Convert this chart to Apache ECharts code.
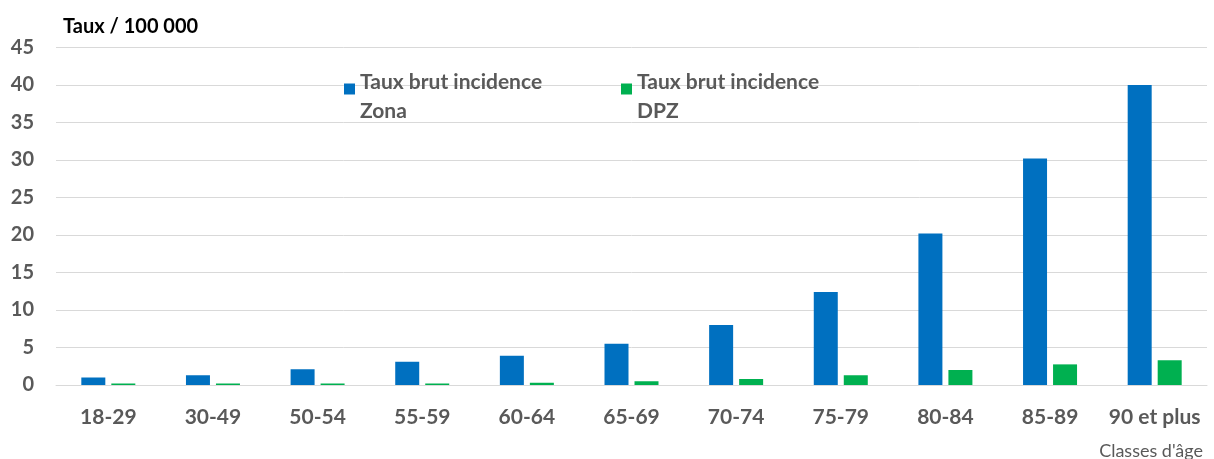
<!DOCTYPE html>
<html>
<head>
<meta charset="utf-8">
<script src="https://cdn.jsdelivr.net/npm/echarts@6/dist/echarts.min.js"></script>
<style>
  html, body { margin: 0; padding: 0; background: #fff; }
  #chart { width: 1214px; height: 459px; }
</style>
</head>
<body>
<div id="chart"></div>
<script>
// classes d'âge
const categories = ["18-29", "30-49", "50-54", "55-59", "60-64", "65-69", "70-74", "75-79", "80-84", "85-89", "90 et plus"];
// taux brut d'incidence pour 100 000
const zona = [1.0, 1.3, 2.1, 3.1, 3.9, 5.5, 8.0, 12.4, 20.2, 30.2, 40.0];
const dpz = [0.2, 0.2, 0.2, 0.2, 0.3, 0.5, 0.8, 1.3, 2.0, 2.75, 3.3];
const yTicks = [0, 5, 10, 15, 20, 25, 30, 35, 40, 45];

const nameZona = "Taux brut incidence\nZona";
const nameDpz = "Taux brut incidence\nDPZ";

const font = "Lato, 'Open Sans', sans-serif";
const grey = "#595959";

// legende sur deux lignes, carré aligné sur la 1re ligne
function legendLabel(name) {
  return "{e| }\n{t|" + name.split("\n").join("}\n{t|") + "}";
}
const legendText = {
  color: grey,
  fontFamily: font,
  fontSize: 21,
  fontWeight: "bold",
  rich: {
    e: { lineHeight: 15, fontSize: 10 },
    t: { color: grey, fontFamily: font, fontSize: 21, fontWeight: "bold", lineHeight: 29 }
  }
};

const chart = echarts.init(document.getElementById("chart"));
chart.setOption({
  animation: false,
  title: [
    {
      text: "Taux / 100 000",
      left: 58,
      top: 12,
      textStyle: { color: "#000", fontFamily: font, fontSize: 20, fontWeight: "bold" }
    },
    {
      text: "Classes d'âge",
      right: 6,
      top: 437,
      textStyle: { color: grey, fontFamily: font, fontSize: 18, fontWeight: "normal" }
    }
  ],
  legend: [
    {
      data: [nameZona],
      left: 344,
      top: 55,
      padding: 0,
      icon: "rect",
      itemWidth: 11,
      itemHeight: 11,
      formatter: legendLabel,
      textStyle: legendText
    },
    {
      data: [nameDpz],
      left: 621,
      top: 55,
      padding: 0,
      icon: "rect",
      itemWidth: 11,
      itemHeight: 11,
      formatter: legendLabel,
      textStyle: legendText
    }
  ],
  grid: { left: 56, right: 7, top: 47.5, bottom: 74, containLabel: false },
  xAxis: {
    type: "category",
    data: categories,
    axisLine: { show: true, lineStyle: { color: "#d9d9d9", width: 1 } },
    axisTick: { show: false },
    axisLabel: {
      color: grey,
      fontFamily: font,
      fontSize: 21,
      fontWeight: "bold",
      margin: 22,
      interval: 0
    }
  },
  yAxis: {
    type: "value",
    min: yTicks[0],
    max: yTicks[yTicks.length - 1],
    interval: 5,
    axisLine: { show: false },
    axisTick: { show: false },
    splitLine: { lineStyle: { color: "#d9d9d9", width: 1 } },
    axisLabel: {
      color: grey,
      fontFamily: font,
      fontSize: 20,
      fontWeight: "bold",
      margin: 22
    }
  },
  series: [
    {
      name: nameZona,
      type: "bar",
      data: zona,
      barWidth: 24,
      barGap: "25%",
      itemStyle: { color: "#0070c0" }
    },
    {
      name: nameDpz,
      type: "bar",
      data: dpz,
      barWidth: 24,
      itemStyle: { color: "#00b050" }
    }
  ]
});
</script>
</body>
</html>
